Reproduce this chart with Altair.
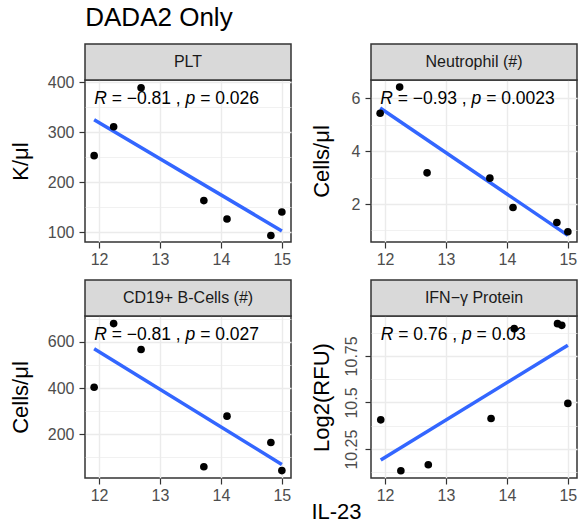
import altair as alt
import pandas as pd

# ---------------- data ----------------
il23 = [11.92, 12.24, 12.69, 13.72, 14.10, 14.82, 15.00]
il23_ifn = [11.93, 12.26, 12.71, 13.74, 14.12, 14.83, 14.90, 15.00]
plt_k = [253, 311, 389, 163, 126, 93, 140]
neutrophil = [5.44, 6.43, 3.18, 2.98, 1.87, 1.30, 0.95]
cd19 = [403, 679, 567, 59, 278, 164, 42]
ifn_gamma = [10.407, 10.134, 10.166, 10.414, 10.896, 10.923, 10.914, 10.495]

strip_labels = ["PLT", "Neutrophil (#)", "CD19+ B-Cells (#)", "IFN\u2212\u03b3 Protein"]
y_titles = ["K/\u03bcl", "Cells/\u03bcl", "Cells/\u03bcl", "Log2(RFU)"]
r_values = ["\u22120.81", "\u22120.93", "\u22120.81", "0.76"]
p_values = ["0.026", "0.0023", "0.027", "0.03"]

y_major = [[100, 200, 300, 400], [2, 4, 6], [200, 400, 600], [10.25, 10.5, 10.75]]
y_minor = [[150, 250, 350], [1, 3, 5], [100, 300, 500, 700], [10.125, 10.375, 10.625, 10.875]]
y_domains = [[80, 404.6], [0.56, 6.70], [10, 712], [10.095, 10.964]]
x_major = [12, 13, 14, 15]
x_minor = [12.5, 13.5, 14.5]
x_domain = [11.77, 15.15]

# ---------------- styling ----------------
FONT = "Liberation Sans"
W, H = 206, 162
STRIP_H = 36
ANN_FS = 17.5
CHAR_W = {"R": 722, "p": 556, " ": 278, "=": 584, "\u2212": 584, ",": 278, ".": 278}
for d in "0123456789":
    CHAR_W[d] = 556


def text_w(s, fs=ANN_FS):
    return sum(CHAR_W.get(c, 556) for c in s) * fs / 1000.0


def major_test(majors):
    return f"indexof({majors}, datum.value) >= 0"


def make_axis(major, minor, title, **kw):
    t = major_test(major)
    return alt.Axis(
        values=major + minor,
        title=title,
        grid=True,
        gridColor="#EBEBEB",
        gridWidth={"condition": {"test": t, "value": 1.4}, "value": 0.7},
        tickOpacity={"condition": {"test": t, "value": 1}, "value": 0},
        labelExpr=f"{t} ? toString(datum.value) : ''",
        domain=False,
        tickSize=6,
        tickColor="#333333",
        tickWidth=1.2,
        labelFontSize=16,
        labelColor="#4D4D4D",
        labelFont=FONT,
        labelFlush=False,
        labelOverlap=False,
        titleFont=FONT,
        titleFontSize=22,
        titleFontWeight="normal",
        titleColor="black",
        **kw,
    )


def make_panel(i, xs, ys, left_col, show_xtitle):
    df = pd.DataFrame({"x": xs, "y": ys})
    if left_col:
        yext = dict(minExtent=39, maxExtent=39, titlePadding=14, labelPadding=5)
    else:
        yext = dict(minExtent=31, maxExtent=31, titlePadding=6.5, labelPadding=5)
    if i == 3:
        yext.update(labelAngle=-90, labelAlign="center", labelBaseline="bottom", labelPadding=6)
    yaxis = make_axis(y_major[i], y_minor[i], y_titles[i], **yext)
    if show_xtitle:
        xaxis = make_axis(x_major, x_minor, "IL-23", labelPadding=3,
                          titleX=-35, titleY=40, titleAlign="center",
                          titleBaseline="alphabetic")
    else:
        xaxis = make_axis(x_major, x_minor, None, labelPadding=3)

    xenc = alt.X("x:Q", scale=alt.Scale(domain=x_domain, nice=False, zero=False), axis=xaxis)
    yenc = alt.Y("y:Q", scale=alt.Scale(domain=y_domains[i], nice=False, zero=False), axis=yaxis)

    base = alt.Chart(df)
    line = base.transform_regression("x", "y").mark_line(
        color="#3366FF", strokeWidth=3.5).encode(x=xenc, y=yenc)
    points = base.mark_circle(size=58, color="black", opacity=1).encode(x=xenc, y=yenc)

    sdf = pd.DataFrame({"label": [strip_labels[i]]})
    strip_rect = alt.Chart(sdf).mark_rect(
        fill="#D9D9D9", stroke="#333333", strokeWidth=1.5
    ).encode(x=alt.value(0), x2=alt.value(W), y=alt.value(-STRIP_H), y2=alt.value(0))
    strip_text = alt.Chart(sdf).mark_text(
        font=FONT, fontSize=16, color="#1A1A1A", align="center", baseline="middle"
    ).encode(x=alt.value(W / 2), y=alt.value(-STRIP_H / 2), text="label:N")

    # correlation annotation: italic R and p, upright rest
    r, p = r_values[i], p_values[i]
    segs = [
        ("R", "italic", 0.0),
        (f"= {r} ,", "normal", text_w("R ")),
        ("p", "italic", text_w(f"R = {r} , ")),
        (f"= {p}", "normal", text_w(f"R = {r} , p ")),
    ]
    ann_layers = []
    xmin = min(xs)
    for txt, style, dx in segs:
        ann_layers.append(
            alt.Chart(sdf).mark_text(
                text=txt, font=FONT, fontSize=ANN_FS, fontStyle=style, color="black",
                align="left", baseline="middle", dx=dx
            ).encode(x=alt.datum(xmin), y=alt.value(19))
        )

    return alt.layer(line, points, *ann_layers, strip_rect, strip_text).properties(width=W, height=H)


p0 = make_panel(0, il23, plt_k, True, False)
p1 = make_panel(1, il23, neutrophil, False, False)
p2 = make_panel(2, il23, cd19, True, False)
p3 = make_panel(3, il23_ifn, ifn_gamma, False, True)

row1 = alt.hconcat(p0, p1, spacing=16)
row2 = alt.hconcat(p2, p3, spacing=16)

chart = alt.vconcat(row1, row2, spacing=10).properties(
    title=alt.TitleParams("DADA2 Only", anchor="start", fontSize=26, font=FONT,
                          fontWeight="normal", color="black", offset=12, dx=77),
    background="white",
    padding={"left": 8, "top": 4, "right": 0, "bottom": 0},
).configure_view(stroke="#333333", strokeWidth=1.5)

chart.save("out.html", embed_options={"renderer": "svg", "actions": False})
